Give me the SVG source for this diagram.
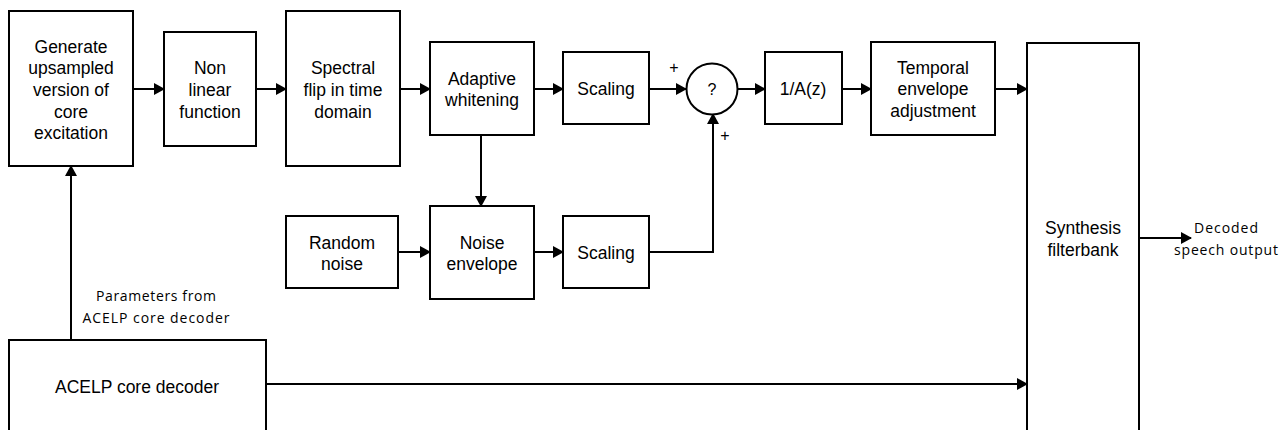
<svg xmlns="http://www.w3.org/2000/svg" width="1287" height="430" viewBox="0 0 1287 430">
<defs>
<marker id="arr" markerUnits="userSpaceOnUse" markerWidth="11" markerHeight="12" refX="10" refY="6" orient="auto"><path d="M0,0 L11,6 L0,12 z" fill="#000"/></marker>
<style>
.box{fill:#fff;stroke:#000;stroke-width:2}
.t{font-family:"Liberation Sans",Arial,sans-serif;font-size:17.5px;text-anchor:middle;fill:#000}
.p{font-family:"Liberation Sans",Arial,sans-serif;font-size:16px;text-anchor:middle;fill:#000}
.s{font-family:"Open Sans","Liberation Sans",sans-serif;font-size:14px;text-anchor:middle;fill:#000}
.c{fill:none;stroke:#000;stroke-width:2;marker-end:url(#arr)}
</style>
</defs>
<rect width="1287" height="430" fill="#fff"/>
<g id="connectors">
<path class="c" d="M133,89 H164"/>
<path class="c" d="M256,89 H286"/>
<path class="c" d="M400,89 H430"/>
<path class="c" d="M534,89 H563"/>
<path class="c" d="M649,89 H686"/>
<path class="c" d="M738,89 H765"/>
<path class="c" d="M842,89 H871"/>
<path class="c" d="M995,89 H1027"/>
<path class="c" d="M481,135 V206"/>
<path class="c" d="M398,252 H430"/>
<path class="c" d="M534,252 H563"/>
<path class="c" d="M649,252 H713 V114"/>
<path class="c" d="M71,340 V166"/>
<path class="c" d="M266,384 H1027"/>
<path class="c" d="M1139,238 H1191"/>
<text class="p" x="674" y="73">+</text>
<text class="p" x="725" y="141">+</text>
<text class="s" x="156" y="301" textLength="120" lengthAdjust="spacing">Parameters from</text>
<text class="s" x="156" y="323" textLength="147" lengthAdjust="spacing">ACELP core decoder</text>
<text class="s" x="1226" y="233" textLength="64" lengthAdjust="spacing">Decoded</text>
<text class="s" x="1226" y="255" textLength="104" lengthAdjust="spacing">speech output</text>
</g>
<g id="gen">
<rect class="box" x="9" y="11" width="124" height="155"/>
<text class="t" x="71" y="53">Generate</text>
<text class="t" x="71" y="74">upsampled</text>
<text class="t" x="71" y="96">version of</text>
<text class="t" x="71" y="118">core</text>
<text class="t" x="71" y="139">excitation</text>
</g>
<g id="nonlinear">
<rect class="box" x="164" y="32" width="92" height="114"/>
<text class="t" x="210" y="74">Non</text>
<text class="t" x="210" y="96">linear</text>
<text class="t" x="210" y="118">function</text>
</g>
<g id="flip">
<rect class="box" x="286" y="11" width="114" height="155"/>
<text class="t" x="343" y="74">Spectral</text>
<text class="t" x="343" y="96">flip in time</text>
<text class="t" x="343" y="118">domain</text>
</g>
<g id="whitening">
<rect class="box" x="430" y="42" width="104" height="93"/>
<text class="t" x="482" y="85">Adaptive</text>
<text class="t" x="482" y="106">whitening</text>
</g>
<g id="scaling1">
<rect class="box" x="563" y="52" width="86" height="72"/>
<text class="t" x="606" y="95">Scaling</text>
</g>
<g id="sum">
<circle class="box" cx="712" cy="89" r="25.5"/>
<text class="p" x="712" y="95">?</text>
</g>
<g id="lpc">
<rect class="box" x="765" y="52" width="77" height="72"/>
<text class="t" x="803" y="95">1/A(z)</text>
</g>
<g id="temporal">
<rect class="box" x="871" y="42" width="124" height="93"/>
<text class="t" x="933" y="74">Temporal</text>
<text class="t" x="933" y="95">envelope</text>
<text class="t" x="933" y="117">adjustment</text>
</g>
<g id="synth">
<rect class="box" x="1027" y="43" width="112" height="400"/>
<text class="t" x="1083" y="234">Synthesis</text>
<text class="t" x="1083" y="256">filterbank</text>
</g>
<g id="random">
<rect class="box" x="286" y="216" width="112" height="72"/>
<text class="t" x="342" y="249">Random</text>
<text class="t" x="342" y="270">noise</text>
</g>
<g id="noiseenv">
<rect class="box" x="430" y="206" width="104" height="93"/>
<text class="t" x="482" y="249">Noise</text>
<text class="t" x="482" y="270">envelope</text>
</g>
<g id="scaling2">
<rect class="box" x="563" y="216" width="86" height="72"/>
<text class="t" x="606" y="259">Scaling</text>
</g>
<g id="acelp">
<rect class="box" x="9" y="340" width="257" height="110"/>
<text class="t" x="137" y="393">ACELP core decoder</text>
</g>
</svg>
